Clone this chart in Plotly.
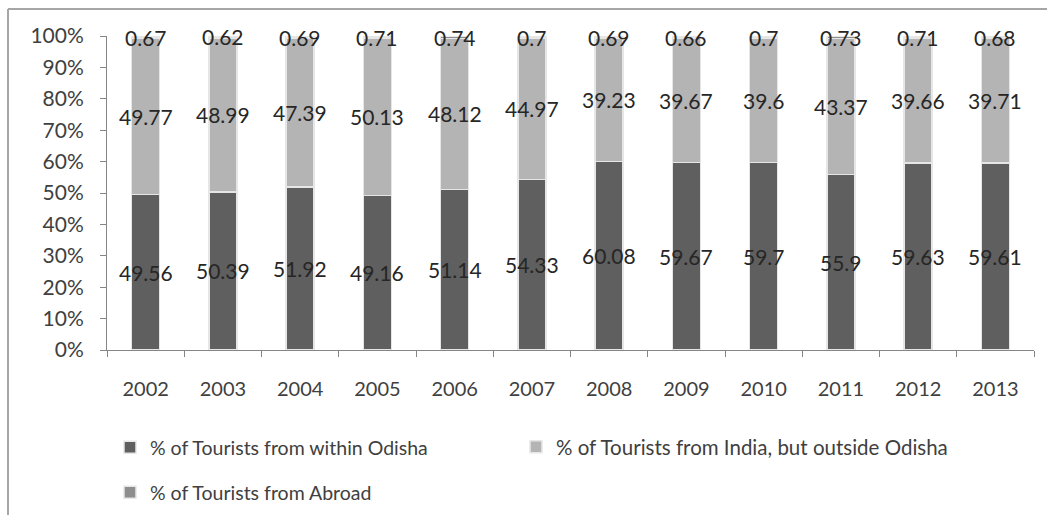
import plotly.graph_objects as go

years = ["2002", "2003", "2004", "2005", "2006", "2007",
         "2008", "2009", "2010", "2011", "2012", "2013"]
within_odisha = [49.56, 50.39, 51.92, 49.16, 51.14, 54.33,
                 60.08, 59.67, 59.70, 55.90, 59.63, 59.61]
outside_odisha = [49.77, 48.99, 47.39, 50.13, 48.12, 44.97,
                  39.23, 39.67, 39.60, 43.37, 39.66, 39.71]
abroad = [0.67, 0.62, 0.69, 0.71, 0.74, 0.70,
          0.69, 0.66, 0.70, 0.73, 0.71, 0.68]
value_text = {
    "within": ["49.56", "50.39", "51.92", "49.16", "51.14", "54.33",
               "60.08", "59.67", "59.7", "55.9", "59.63", "59.61"],
    "outside": ["49.77", "48.99", "47.39", "50.13", "48.12", "44.97",
                "39.23", "39.67", "39.6", "43.37", "39.66", "39.71"],
    "abroad": ["0.67", "0.62", "0.69", "0.71", "0.74", "0.7",
               "0.69", "0.66", "0.7", "0.73", "0.71", "0.68"],
}
series_names = ["% of Tourists from within Odisha",
                "% of Tourists from India, but outside Odisha",
                "% of Tourists from Abroad"]
y_ticks = list(range(0, 101, 10))
y_tick_text = [f"{v}%" for v in y_ticks]

FONT = "Lato, 'Open Sans', sans-serif"
W, H = 1047, 515
L, R, T, B = 107, 13, 36, 165
plot_w = W - L - R
plot_h = H - T - B

fig = go.Figure()
series = [
    (within_odisha, "#5f5f5f", "legend"),
    (outside_odisha, "#b4b4b4", "legend2"),
    (abroad, "#8e8e8e", "legend3"),
]
for (vals, color, lg), name in zip(series, series_names):
    fig.add_trace(go.Bar(
        x=years, y=vals, name=name, showlegend=True,
        marker=dict(color=color, line=dict(color="#e6e6e6", width=1.5)),
        legend=lg, hoverinfo="skip",
    ))

# segment value labels at the centre of each stacked segment
# (category axis: annotation x is the category index)
annotations = []
for i in range(len(years)):
    base = 0.0
    for vals, key in ((within_odisha, "within"), (outside_odisha, "outside"), (abroad, "abroad")):
        annotations.append(dict(
            x=i, y=base + vals[i] / 2, xref="x", yref="y",
            text=value_text[key][i], showarrow=False,
            font=dict(family=FONT, size=21, color="#262626"),
        ))
        base += vals[i]

# outer frame: left and top edges
def px_x(p):
    return (p - L) / plot_w

def px_y(p):
    return (H - B - p) / plot_h

shapes = [
    dict(type="line", xref="paper", yref="paper",
         x0=px_x(8), x1=px_x(8), y0=px_y(9), y1=px_y(H + 5),
         line=dict(color="#a6a6a6", width=2)),
    dict(type="line", xref="paper", yref="paper",
         x0=px_x(8), x1=px_x(W + 5), y0=px_y(9), y1=px_y(9),
         line=dict(color="#a6a6a6", width=2)),
]

def legend_box(left_px, top_px, size=19.5):
    return dict(orientation="h", x=px_x(left_px), y=px_y(top_px),
                xanchor="left", yanchor="top",
                font=dict(family=FONT, size=size, color="#404040"),
                itemwidth=30, bgcolor="rgba(0,0,0,0)", visible=True)

fig.update_layout(
    width=W, height=H,
    margin=dict(l=L, r=R, t=T, b=B, autoexpand=False),
    barmode="stack", bargap=0.64, showlegend=True,
    plot_bgcolor="white", paper_bgcolor="white",
    font=dict(family=FONT, size=20, color="#404040"),
    annotations=annotations, shapes=shapes,
    legend=legend_box(110, 428),
    legend2=legend_box(516, 427, size=20.5),
    legend3=legend_box(110, 473),
    xaxis=dict(type="category", showline=True, linecolor="#868686",
               linewidth=1, ticks="outside", tickson="boundaries",
               ticklen=6, tickcolor="#868686", ticklabelstandoff=21,
               tickfont=dict(family=FONT, size=20, color="#404040"),
               showgrid=False, fixedrange=True),
    yaxis=dict(range=[0, 100], tickvals=y_ticks, ticktext=y_tick_text,
               showline=True, linecolor="#868686",
               linewidth=1, ticks="outside", ticklen=6,
               tickcolor="#868686", ticklabelstandoff=12,
               tickfont=dict(family=FONT, size=21, color="#404040"),
               showgrid=False, zeroline=False, fixedrange=True),
)

fig.write_html("out.html")
